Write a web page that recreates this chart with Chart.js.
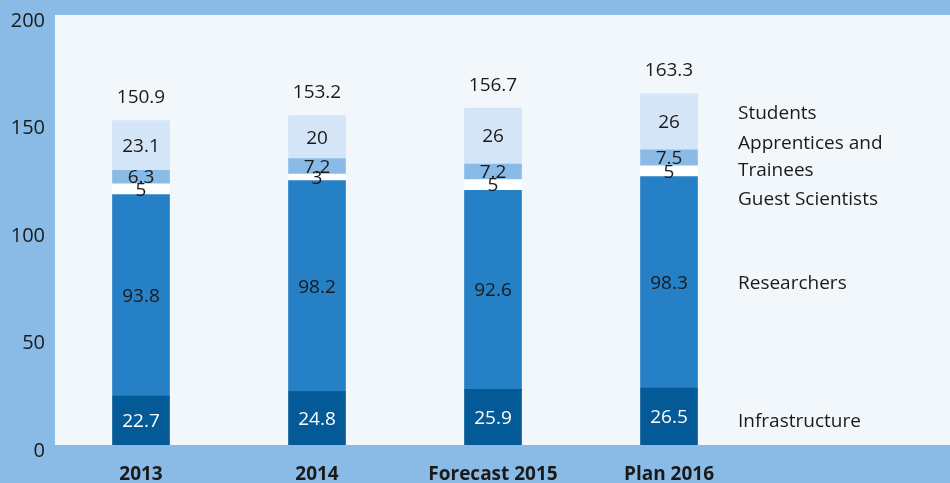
<!DOCTYPE html>
<html>
<head>
<meta charset="utf-8">
<script src="https://cdn.jsdelivr.net/npm/chart.js@4.4.1/dist/chart.umd.min.js"></script>
<style>
  html, body { margin: 0; padding: 0; background: #8abbe6; }
  #wrap { width: 950px; height: 483px; }
</style>
</head>
<body>
<div id="wrap"><canvas id="staffChart"></canvas></div>
<script>
// data
const years = ['2013', '2014', 'Forecast 2015', 'Plan 2016'];
const infrastructure = [22.7, 24.8, 25.9, 26.5];
const researchers = [93.8, 98.2, 92.6, 98.3];
const guestScientists = [5, 3, 5, 5];
const apprentices = [6.3, 7.2, 7.2, 7.5];
const students = [23.1, 20, 26, 26];
const totals = [150.9, 153.2, 156.7, 163.3];
const yTicks = [0, 50, 100, 150, 200];

const FONT = '"Open Sans", "Noto Sans", sans-serif';

// light plot background, extends to the right edge of the canvas
const backgroundPlugin = {
    id: 'bg',
    beforeDraw(chart) {
        const { ctx, chartArea } = chart;
        ctx.save();
        ctx.fillStyle = '#8abbe6';
        ctx.fillRect(0, 0, chart.width, chart.height);
        ctx.fillStyle = '#f2f7fc';
        ctx.fillRect(55, chartArea.top, chart.width - 55, chartArea.bottom - chartArea.top);
        ctx.restore();
    }
};

// values inside segments, totals on top, series names at the right
const labelsPlugin = {
    id: 'labels',
    afterDatasetsDraw(chart) {
        const { ctx } = chart;
        const y = chart.scales.y;
        ctx.save();
        ctx.font = '19px ' + FONT;
        ctx.textAlign = 'center';
        ctx.textBaseline = 'middle';
        chart.data.datasets.forEach((ds, i) => {
            const meta = chart.getDatasetMeta(i);
            meta.data.forEach((bar, j) => {
                ctx.fillStyle = i === 0 ? '#ffffff' : '#1a1a1a';
                ctx.fillText(String(ds.data[j]), bar.x, (bar.y + bar.base) / 2 + 1);
            });
        });
        const last = chart.getDatasetMeta(chart.data.datasets.length - 1);
        last.data.forEach((bar, j) => {
            ctx.fillStyle = '#1a1a1a';
            ctx.fillText(totals[j].toFixed(1), bar.x, bar.y - 23);
        });
        // right hand labels, anchored on the value scale
        const anchors = [11.6, 75.8, 115.3, 135, 154.9];
        ctx.textAlign = 'left';
        chart.data.datasets.forEach((ds, i) => {
            const py = y.getPixelForValue(anchors[i]) + 2;
            if (ds.label === 'Apprentices and Trainees') {
                ctx.fillText('Apprentices and', 738, py - 13.5);
                ctx.fillText('Trainees', 738, py + 13.5);
            } else {
                ctx.fillText(ds.label, 738, py);
            }
        });
        ctx.restore();
    }
};

const ctx = document.getElementById('staffChart').getContext('2d');
new Chart(ctx, {
    type: 'bar',
    data: {
        labels: years,
        datasets: [
            { label: 'Infrastructure', data: infrastructure, backgroundColor: '#045a96' },
            { label: 'Researchers', data: researchers, backgroundColor: '#2680c5' },
            { label: 'Guest Scientists', data: guestScientists, backgroundColor: '#ffffff' },
            { label: 'Apprentices and Trainees', data: apprentices, backgroundColor: '#8abbe6' },
            { label: 'Students', data: students, backgroundColor: '#d4e5f7' }
        ]
    },
    options: {
        responsive: true,
        maintainAspectRatio: false,
        animation: false,
        layout: { padding: { top: 15, right: 193, left: 0, bottom: 0 } },
        plugins: {
            legend: { display: false },
            tooltip: { enabled: false }
        },
        scales: {
            x: {
                stacked: true,
                grid: { display: false, drawTicks: false },
                border: { display: false },
                afterFit: scale => {
                    scale.height = 38;
                    scale.paddingLeft = 0;
                    scale.paddingRight = 0;
                },
                ticks: {
                    color: '#1a1a1a',
                    padding: 18,
                    font: { family: FONT, size: 19, weight: 'bold' }
                }
            },
            y: {
                stacked: true,
                min: 0,
                max: 200,
                grid: { display: false, drawTicks: false },
                border: { display: false },
                afterFit: scale => {
                    scale.width = 53;
                    scale.paddingTop = 0;
                    scale.paddingBottom = 0;
                },
                afterBuildTicks: scale => { scale.ticks = yTicks.map(v => ({ value: v })); },
                ticks: {
                    color: '#1a1a1a',
                    padding: 8,
                    labelOffset: 6,
                    font: { family: FONT, size: 20 }
                }
            }
        },
        datasets: {
            bar: { barThickness: 57 }
        }
    },
    plugins: [backgroundPlugin, labelsPlugin]
});
</script>
</body>
</html>
